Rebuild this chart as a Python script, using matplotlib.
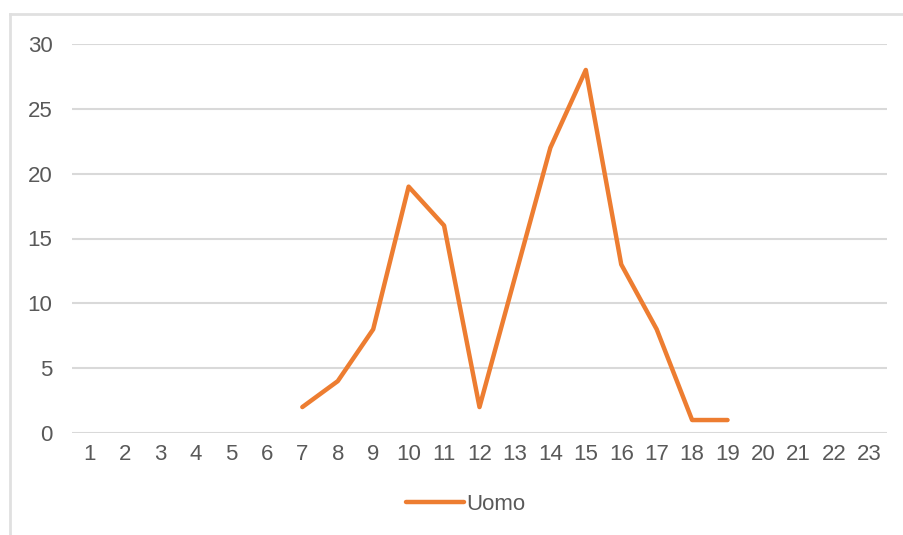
import matplotlib
matplotlib.use("Agg")
import matplotlib.pyplot as plt
from matplotlib.lines import Line2D

# data
categories = list(range(1, 24))
uomo_x = [7, 8, 9, 10, 11, 12, 13, 14, 15, 16, 17, 18, 19]
uomo_y = [2, 4, 8, 19, 16, 2, 12, 22, 28, 13, 8, 1, 1]
y_ticks = [0, 5, 10, 15, 20, 25, 30]

W, H = 904, 535
plt.rcParams['font.family'] = ['Liberation Sans', 'DejaVu Sans']

fig = plt.figure(figsize=(W / 100, H / 100), dpi=100)
fig.patch.set_facecolor('white')

# chart border (clipped at right and bottom like the screenshot)
border = '#e0e0e0'
fig.add_artist(Line2D([10 / W, 1], [1 - 14 / H, 1 - 14 / H], color=border, lw=2))
fig.add_artist(Line2D([10 / W, 10 / W], [1 - 14 / H, 0], color=border, lw=2))

ax = fig.add_axes([72 / W, 1 - 433 / H, (887 - 72) / W, (433 - 44) / H])
ax.set_xlim(0.5, 23.5)
ax.set_ylim(0, 30)
ax.set_yticks(y_ticks)
ax.set_xticks(categories)
ax.set_xticklabels([str(c) for c in categories])

ax.grid(axis='y', color='#d9d9d9', lw=1.5)
ax.set_axisbelow(True)
for s in ax.spines.values():
    s.set_visible(False)
ax.tick_params(axis='both', length=0, labelsize=16, labelcolor='#595959')
ax.tick_params(axis='y', pad=14)
ax.tick_params(axis='x', pad=8)

line, = ax.plot(uomo_x, uomo_y, color='#ED7D31', lw=3.2,
                solid_capstyle='round', solid_joinstyle='round', label='Uomo', clip_on=False)

fig.legend(handles=[line], loc='center', bbox_to_anchor=(466 / W, 1 - 504 / H),
           frameon=False, fontsize=16, handlelength=2.6, handletextpad=0.1,
           labelcolor='#595959')

fig.savefig('out.png', dpi=100)
